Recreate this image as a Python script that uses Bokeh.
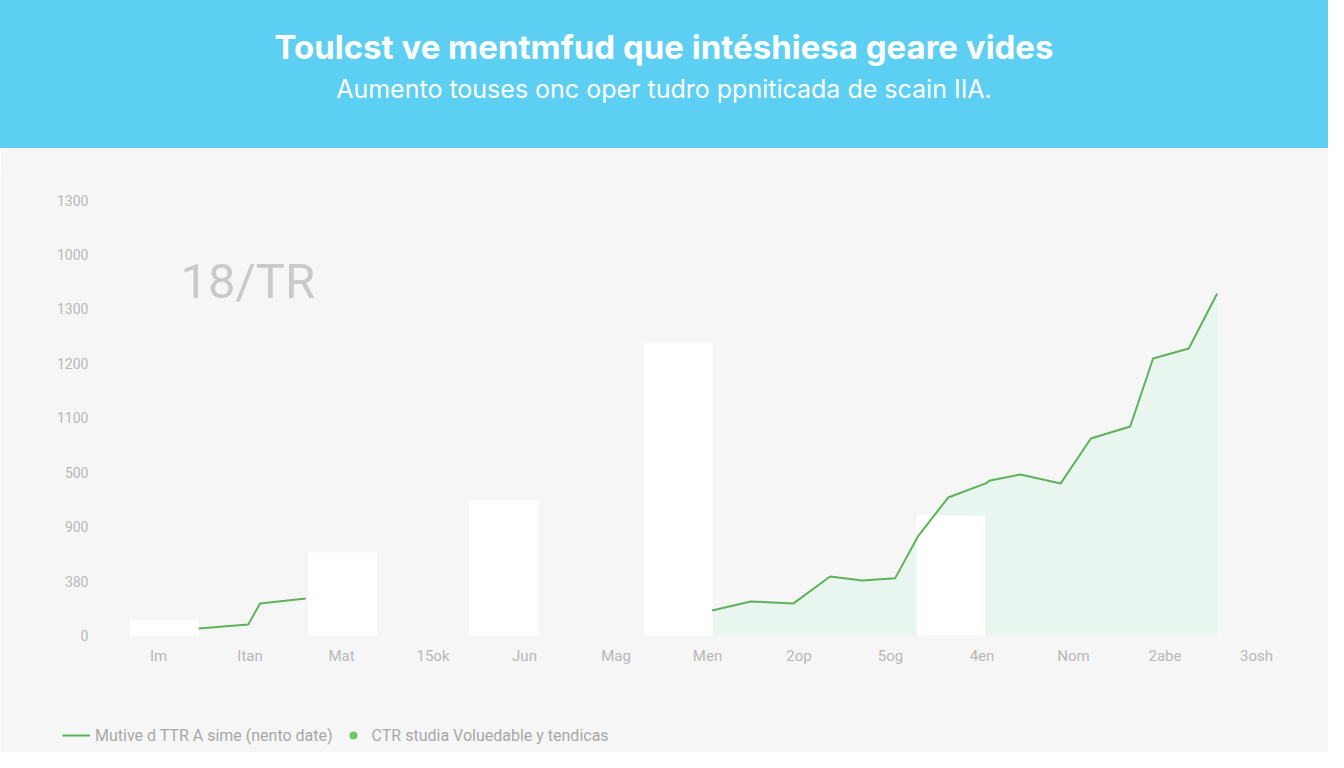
import numpy as np
from bokeh.plotting import figure
from bokeh.layouts import column
from bokeh.models import (Range1d, FixedTicker, Label, Legend, LegendItem,
                          ColumnDataSource, Div)
from bokeh.embed import file_html
from bokeh.resources import INLINE

HEADER_COLOUR = "#5ccff3"
BG_COLOUR = "#f6f6f6"
LINE_COLOUR = "#5db35a"
FILL_COLOUR = "#d9f3e6"
TICK_COLOUR = "#b8b8b8"

title_text = "Toulcst ve mentmfud que intéshiesa geare vides"
subtitle_text = "Aumento touses onc oper tudro ppniticada de scain IIA."
badge_text = "18/TR"

x_labels = ["Im", "Itan", "Mat", "15ok", "Jun", "Mag", "Men",
            "2op", "5og", "4en", "Nom", "2abe", "3osh"]
y_ticks = [0, 200, 400, 600, 800, 1000, 1200, 1400, 1600]
y_labels = ["0", "380", "900", "500", "1100", "1200", "1300", "1000", "1300"]

# white bars
bar_x = [0.06, 2.01, 3.77, 5.68, 8.66]
bar_top = [55, 305, 496, 1077, 441]

# green trend line (NaN = gap hidden behind the bars)
line_x = [0.44, 0.98, 1.11, 1.61, np.nan,
          6.05, 6.47, 6.94, 7.34, 7.69, 8.05, 8.30, 8.63, 9.04, 9.09,
          9.42, 9.86, 10.19, 10.62, 10.87, 11.26, 11.57]
line_y = [26, 40, 118, 136, np.nan,
          92, 125, 118, 217, 202, 210, 364, 507, 559, 570,
          592, 559, 724, 768, 1018, 1055, 1257]

legend_line = "Mutive d TTR A sime (nento date)"
legend_dot = "CTR studia Voluedable y tendicas"

W = 1328

# header band
head = Div(width=W, height=148, margin=0, text=(
    f'<div style="width:{W}px;height:148px;background:{HEADER_COLOUR};'
    'color:white;font-family:Inter;text-align:center;overflow:hidden">'
    '<div style="padding-top:29px;font-size:33px;font-weight:bold;'
    f'line-height:36px">{title_text}</div>'
    '<div style="margin-top:9px;font-size:25px;line-height:30px">'
    f'{subtitle_text}</div></div>'))

# chart: frame covers the whole lower area, axes pinned at 0 / left edge
p = figure(width=W, height=604, x_range=Range1d(-1.727, 12.317),
           y_range=Range1d(-430, 1698), toolbar_location=None, tools="",
           output_backend="svg", min_border_left=0, min_border_right=43,
           min_border_top=25, min_border_bottom=0,
           background_fill_color=BG_COLOUR, border_fill_color=BG_COLOUR,
           outline_line_color=None)
p.grid.visible = False

seg = 5
fill_src = ColumnDataSource(dict(x=line_x[seg:], y1=[0] * len(line_x[seg:]),
                                 y2=line_y[seg:]))
p.varea(x="x", y1="y1", y2="y2", source=fill_src, fill_color=FILL_COLOUR,
        fill_alpha=0.45)
p.vbar(x=bar_x, top=bar_top, width=0.75, fill_color="white", line_color=None)
ln = p.line(line_x, line_y, line_color=LINE_COLOUR, line_width=2)
dots = p.scatter(line_x, line_y, size=0, fill_color="#6cc96a",
                 line_color=None)

p.xaxis.ticker = FixedTicker(ticks=list(range(len(x_labels))))
p.xaxis.major_label_overrides = {i: s for i, s in enumerate(x_labels)}
p.xaxis.fixed_location = 0
p.yaxis.ticker = FixedTicker(ticks=y_ticks)
p.yaxis.major_label_overrides = {t: s for t, s in zip(y_ticks, y_labels)}
p.yaxis.fixed_location = -0.525
for ax in (p.xaxis, p.yaxis):
    ax.axis_line_color = None
    ax.major_tick_line_color = None
    ax.minor_tick_line_color = None
    ax.major_tick_out = 0
    ax.major_label_text_color = TICK_COLOUR
    ax.major_label_text_font = "Roboto"
    ax.major_label_text_font_size = "14px"
p.xaxis.major_label_text_font_size = "15px"
p.xaxis.major_label_standoff = 11
p.yaxis.major_label_standoff = 22

p.add_layout(Label(x=0.24, y=1300, text=badge_text, text_color="#c9c9c9",
                   text_font="Roboto", text_font_size="49px",
                   text_baseline="alphabetic"))

legend = Legend(items=[LegendItem(label=legend_line, renderers=[ln]),
                       LegendItem(label=legend_dot, renderers=[dots])],
                location=(62, 7), orientation="horizontal",
                background_fill_alpha=0, border_line_alpha=0,
                padding=0, margin=0, spacing=6, glyph_width=28,
                glyph_height=20, label_standoff=5,
                label_text_color="#a8a8a8", label_text_font="Roboto",
                label_text_font_size="16px")
p.add_layout(legend)

layout = column(head, p, spacing=0)
open("out.html", "w").write(file_html(layout, INLINE))
